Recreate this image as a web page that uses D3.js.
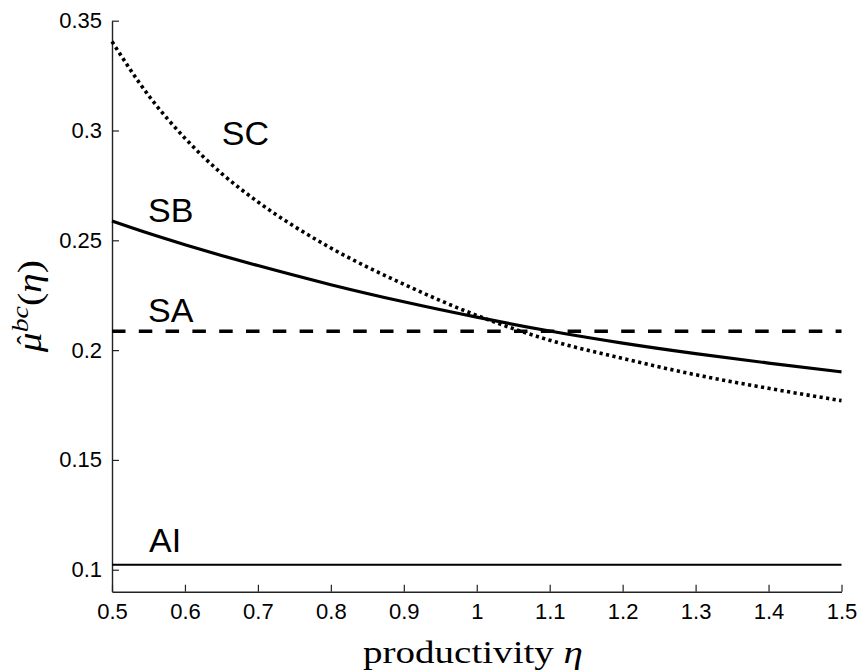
<!DOCTYPE html>
<html>
<head>
<meta charset="utf-8">
<script src="https://cdn.jsdelivr.net/npm/d3@7"></script>
<style>
  html, body { margin: 0; padding: 0; background: #fff; }
  svg { display: block; }
</style>
</head>
<body>
<svg id="chart" width="861" height="672"></svg>
<script>
// productivity grid
const eta = [0.5, 0.55, 0.6, 0.65, 0.7, 0.8, 0.9, 1.0, 1.1, 1.2, 1.3, 1.4, 1.5];
// bias-corrected estimate under each scheme
const seriesSC = [0.3405, 0.3160, 0.2965, 0.2805, 0.2675, 0.2465, 0.2300, 0.2158, 0.2045, 0.1962, 0.1888, 0.1826, 0.1770];
const seriesSB = [0.2588, 0.2532, 0.2480, 0.2431, 0.2385, 0.2298, 0.2220, 0.2150, 0.2087, 0.2032, 0.1984, 0.1941, 0.1901];
const seriesSA = [0.2086, 0.2086, 0.2086, 0.2086, 0.2086, 0.2086, 0.2086, 0.2086, 0.2086, 0.2086, 0.2086, 0.2086, 0.2086];
const seriesAI = [0.1023, 0.1023, 0.1023, 0.1023, 0.1023, 0.1023, 0.1023, 0.1023, 0.1023, 0.1023, 0.1023, 0.1023, 0.1023];
const seriesNames = ["SC", "SB", "SA", "AI"];

// axis ticks
const xTicks = [0.5, 0.6, 0.7, 0.8, 0.9, 1.0, 1.1, 1.2, 1.3, 1.4, 1.5];
const xTickLabels = ["0.5", "0.6", "0.7", "0.8", "0.9", "1", "1.1", "1.2", "1.3", "1.4", "1.5"];
const yTicks = [0.1, 0.15, 0.2, 0.25, 0.3, 0.35];
const yTickLabels = ["0.1", "0.15", "0.2", "0.25", "0.3", "0.35"];

const svg = d3.select("#chart");
const x = d3.scaleLinear().domain([0.5, 1.5]).range([112, 841.5]);
const y = d3.scaleLinear().domain([0.09, 0.35]).range([591.7, 20.7]);

const sansFont = "'Liberation Sans', Arial, Helvetica, sans-serif";
const serifFont = "'Liberation Serif', 'Times New Roman', serif";

// axes (ticks point inward, no box)
const xAxis = d3.axisBottom(x)
  .tickValues(xTicks)
  .tickFormat((d, i) => xTickLabels[i])
  .tickSizeInner(-7).tickSizeOuter(0).tickPadding(12);
const yAxis = d3.axisLeft(y)
  .tickValues(yTicks)
  .tickFormat((d, i) => yTickLabels[i])
  .tickSizeInner(-7).tickSizeOuter(0).tickPadding(10);

const gx = svg.append("g").attr("transform", `translate(0,${y(0.09)})`).call(xAxis);
const gy = svg.append("g").attr("transform", `translate(${x(0.5)},0)`).call(yAxis);
[gx, gy].forEach(g => {
  g.select(".domain").attr("stroke", "#222").attr("stroke-width", 1.4);
  g.selectAll(".tick line").attr("stroke", "#222").attr("stroke-width", 1.2);
  g.selectAll(".tick text")
    .attr("fill", "#000")
    .style("font-family", sansFont)
    .style("font-size", "22px");
});
gx.selectAll(".tick text").attr("dy", "0.71em");

// series lines
const line = d3.line()
  .x((d, i) => x(eta[i]))
  .y(d => y(d))
  .curve(d3.curveMonotoneX);

const styles = {
  AI: { data: seriesAI, width: 2, dash: null },
  SA: { data: seriesSA, width: 3.5, dash: "13.5,13.3" },
  SB: { data: seriesSB, width: 3.2, dash: null },
  SC: { data: seriesSC, width: 3.6, dash: "3.2,3.4" }
};

seriesNames.forEach(name => {
  const s = styles[name];
  svg.append("path")
    .datum(s.data)
    .attr("d", line)
    .attr("fill", "none")
    .attr("stroke", "#000")
    .attr("stroke-width", s.width)
    .attr("stroke-dasharray", s.dash);
});

// curve labels, anchored in data coordinates
const labelAt = { SC: [0.6505, 0.2932], SB: [0.5494, 0.2583], SA: [0.5494, 0.2129], AI: [0.5508, 0.1081] };
seriesNames.forEach(name => {
  svg.append("text")
    .attr("x", x(labelAt[name][0]))
    .attr("y", y(labelAt[name][1]))
    .style("font-family", sansFont)
    .style("font-size", "34px")
    .attr("fill", "#000")
    .text(name);
});

// x-axis title
const xt = svg.append("text")
  .attr("x", 363).attr("y", 663)
  .attr("textLength", 220).attr("lengthAdjust", "spacingAndGlyphs")
  .style("font-family", serifFont)
  .style("font-size", "31px")
  .attr("fill", "#000");
xt.append("tspan").text("productivity ");
xt.append("tspan").style("font-style", "italic").text("η");

// y-axis title: \hat{\mu}^{bc}(\eta)
const yg = svg.append("g")
  .attr("transform", `translate(41,${(y(0.09) + y(0.35)) / 2}) rotate(-90)`)
  .style("font-family", serifFont)
  .attr("fill", "#000");
const yt = yg.append("text")
  .attr("x", -46).attr("y", 0)
  .attr("textLength", 92).attr("lengthAdjust", "spacingAndGlyphs")
  .style("font-size", "34px");
yt.append("tspan").style("font-style", "italic").text("μ");
yt.append("tspan").attr("dy", -13).style("font-style", "italic").style("font-size", "24px").text("bc");
yt.append("tspan").attr("dy", 13).text("(");
yt.append("tspan").style("font-style", "italic").text("η");
yt.append("tspan").text(")");
// hat over the mu
yg.append("text")
  .attr("x", -34).attr("y", -5)
  .attr("text-anchor", "middle")
  .style("font-size", "28px")
  .text("\u02C6");
</script>
</body>
</html>
